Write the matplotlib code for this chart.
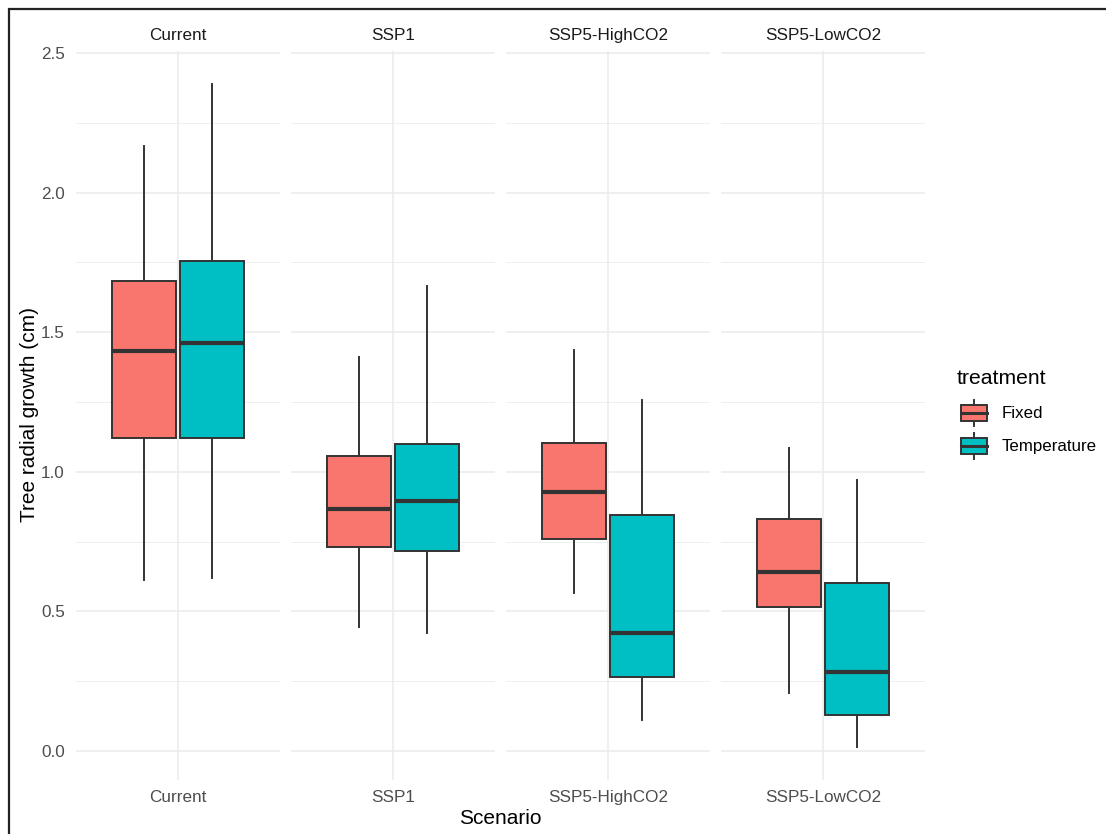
import matplotlib
matplotlib.use("Agg")
import matplotlib.pyplot as plt
from matplotlib.lines import Line2D
from matplotlib.patches import Rectangle

plt.rcParams['font.family'] = ['Liberation Sans', 'DejaVu Sans']

scenarios = ["Current", "SSP1", "SSP5-HighCO2", "SSP5-LowCO2"]
treatments = ["Fixed", "Temperature"]
colors = {"Fixed": "#F8766D", "Temperature": "#00BFC4"}

# five-number summaries per scenario: [whisker low, Q1, median, Q3, whisker high]
fixed_stats = [
    [0.612, 1.121, 1.433, 1.685, 2.167],
    [0.445, 0.732, 0.866, 1.057, 1.412],
    [0.567, 0.760, 0.928, 1.104, 1.436],
    [0.209, 0.517, 0.642, 0.830, 1.084],
]
temperature_stats = [
    [0.620, 1.121, 1.460, 1.756, 2.389],
    [0.424, 0.716, 0.896, 1.098, 1.667],
    [0.111, 0.266, 0.421, 0.844, 1.257],
    [0.015, 0.129, 0.282, 0.601, 0.971],
]
y_ticks = [0.0, 0.5, 1.0, 1.5, 2.0, 2.5]
y_minor = [0.25, 0.75, 1.25, 1.75, 2.25]

W, H = 1106, 834
fig = plt.figure(figsize=(W / 100, H / 100), dpi=100)
fig.patch.set_facecolor("white")

edge = "#333333"
grid_col = "#EBEBEB"
text_col = "#4D4D4D"

panel_left = [76, 291, 506, 721]
panel_w = 204
panel_top, panel_bot = 51, 780
ylo, yhi = -0.104, 2.507

def fx(px):
    return px / W

def fy(py):
    return 1 - py / H

axes = []
for i, scen in enumerate(scenarios):
    ax = fig.add_axes([fx(panel_left[i]), fy(panel_bot), panel_w / W, (panel_bot - panel_top) / H])
    ax.set_xlim(0.4, 1.6)
    ax.set_ylim(ylo, yhi)
    for s in ax.spines.values():
        s.set_visible(False)
    ax.set_facecolor("none")
    for v in y_ticks:
        ax.axhline(v, color=grid_col, lw=1.1, zorder=0)
    for v in y_minor:
        ax.axhline(v, color=grid_col, lw=0.55, zorder=0)
    ax.axvline(1.0, color=grid_col, lw=1.1, zorder=0)

    stats = []
    for tr, src in zip(treatments, [fixed_stats, temperature_stats]):
        lo, q1, med, q3, hi = src[i]
        stats.append(dict(whislo=lo, q1=q1, med=med, q3=q3, whishi=hi, fliers=[], label=tr))
    bp = ax.bxp(stats, positions=[0.8, 1.2], widths=0.376, patch_artist=True,
                showfliers=False, showcaps=False, manage_ticks=False,
                boxprops=dict(edgecolor=edge, linewidth=1.4),
                whiskerprops=dict(color=edge, linewidth=1.4),
                medianprops=dict(color=edge, linewidth=3.0, solid_capstyle="butt"))
    for patch, tr in zip(bp["boxes"], treatments):
        patch.set_facecolor(colors[tr])
        patch.set_zorder(2)
    for w in bp["whiskers"]:
        w.set_zorder(1.5)
    for m in bp["medians"]:
        m.set_zorder(3)

    ax.set_xticks([1.0])
    ax.set_xticklabels([scen], fontsize=12.3, color=text_col)
    ax.tick_params(axis="x", length=0, pad=7)
    if i == 0:
        ax.set_yticks(y_ticks)
        ax.set_yticklabels([f"{v:.1f}" for v in y_ticks], fontsize=12.3, color=text_col)
        ax.tick_params(axis="y", length=0, pad=8)
    else:
        ax.set_yticks([])
    ax.set_title(scen, fontsize=12.3, color="#1A1A1A", pad=8)
    axes.append(ax)

fig.text(fx(30), fy(415), "Tree radial growth (cm)", rotation=90, ha="center", va="center",
         fontsize=15, color="black")
fig.text(fx(500), fy(818), "Scenario", ha="center", va="center", fontsize=15, color="black")

# legend
fig.text(fx(957), fy(378), "treatment", ha="left", va="center", fontsize=15.2, color="black")
leg = fig.add_axes([fx(955), fy(465), 40 / W, 70 / H])
leg.set_xlim(955, 995)
leg.set_ylim(465, 395)
leg.axis("off")
for tr, yc in zip(treatments, [413, 446]):
    leg.add_line(Line2D([974, 974], [yc - 13, yc + 13], color=edge, lw=1.4, zorder=1))
    leg.add_patch(Rectangle((961, yc - 8.3), 25.7, 16.6, facecolor=colors[tr], edgecolor=edge,
                            lw=1.4, zorder=2))
    leg.add_line(Line2D([961, 986.7], [yc, yc], color=edge, lw=2.2, zorder=3))
    fig.text(fx(1002), fy(yc), tr, ha="left", va="center", fontsize=12.2, color="black")

# outer frame along top and left edges
fig.add_artist(Line2D([fx(7.7), 1.0], [fy(8.5), fy(8.5)], color="#222222", lw=1.6,
                      solid_capstyle="butt"))
fig.add_artist(Line2D([fx(8.5), fx(8.5)], [fy(7.7), 0.0], color="#222222", lw=1.6,
                      solid_capstyle="butt"))

fig.savefig("out.png", dpi=100, facecolor="white")
